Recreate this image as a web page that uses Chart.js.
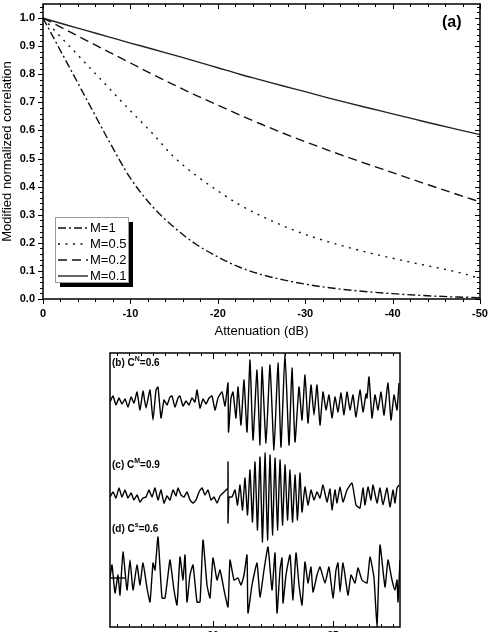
<!DOCTYPE html>
<html><head><meta charset="utf-8">
<script src="https://cdn.jsdelivr.net/npm/chart.js@4.4.0/dist/chart.umd.min.js"></script>
<style>
html,body{margin:0;padding:0;width:492px;height:632px;overflow:hidden;background:#fff;}
#c1{position:absolute;left:0;top:0;}
#c2{position:absolute;left:0;top:345px;}
</style></head><body>
<canvas id="c1" width="492" height="340"></canvas>
<canvas id="c2" width="492" height="300"></canvas>
<script>
// ---------- panel (a) data ----------
const attenuation = [0,-2.5,-5,-7.5,-10,-12.5,-15,-17.5,-20,-22.5,-25,-27.5,-30,-32.5,-35,-37.5,-40,-42.5,-45,-47.5,-50];
const corrM1  = [1,0.855,0.71,0.565,0.43,0.33,0.255,0.195,0.15,0.113,0.087,0.068,0.053,0.041,0.032,0.025,0.019,0.014,0.010,0.007,0.005];
const corrM05 = [1,0.917,0.835,0.752,0.67,0.59,0.505,0.44,0.385,0.335,0.295,0.26,0.23,0.205,0.183,0.163,0.145,0.128,0.112,0.095,0.073];
const corrM02 = [1,0.96,0.92,0.88,0.84,0.8,0.762,0.725,0.69,0.655,0.622,0.59,0.56,0.531,0.503,0.476,0.45,0.423,0.397,0.371,0.346];
const corrM01 = [1,0.977,0.955,0.933,0.911,0.89,0.868,0.846,0.823,0.80,0.779,0.758,0.738,0.717,0.697,0.678,0.659,0.64,0.621,0.603,0.585];
const seriesLabels = ['M=1','M=0.5','M=0.2','M=0.1'];
const panelALabel = '(a)';
const xTitle = 'Attenuation (dB)';
const yTitle = 'Modified normalized correlation';

// ---------- panels (b)-(d) data: [sample index, amplitude] ----------
const tStart = 15.71, samplesPerUnit = 24, sampleCount = 290;
const traceB = [[0,0],[3,0.6],[6,-0.3],[9,0.4],[12,-0.2],[15,0.3],[18,-0.5],[21,0.5],[24,-0.1],[27,1.0],[30,-0.8],[33,1.1],[36,-0.6],[40,1.2],[43,-1.8],[46,1.2],[48,1.5],[51,-1.6],[54,0.2],[57,-0.3],[60,0.5],[62,0.6],[65,-0.5],[68,0.4],[70,0.6],[73,-0.4],[76,0.1],[79,-0.3],[82,0.4],[85,0],[87,1.2],[90,-0.6],[93,0.3],[96,-0.2],[99,0.4],[102,0.6],[105,-0.8],[108,0.4],[112,1.0],[115,-0.4],[118,1.9],[118.5,-3.0],[121,0.4],[123,1.0],[126,-1.6],[128,1.5],[131,-2.3],[134,2.2],[137,-3.0],[140,4.2],[143,-3.8],[147,3.2],[150,-4.3],[152,3.5],[156,-4.1],[160,3.7],[164,-4.8],[168,3.9],[171,-4.5],[175,4.9],[179,-4.3],[182,3.4],[185,-4.0],[189,1.5],[192,-1.8],[195,2.7],[198,-2.1],[201,1.7],[204,-1.3],[207,1.7],[210,-2.3],[213,1.0],[216,-0.8],[219,0.7],[222,-1.6],[225,0.5],[228,-1.0],[231,0.9],[234,-1.3],[237,1.0],[240,-0.8],[243,0.7],[246,-1.5],[250,1.2],[253,-1.0],[256,0.8],[257,0.4],[259,2.5],[262,-1.6],[265,0.7],[268,-0.8],[271,1.0],[274,-1.3],[278,1.9],[281,-1.8],[284,0.7],[287,-0.8],[289,1.9]];
const traceC = [[0,-0.2],[3,0.3],[6,-0.3],[9,0.7],[12,-0.2],[15,0.5],[18,-0.3],[21,0.2],[24,-0.5],[27,0],[30,-0.7],[33,-0.3],[36,-0.2],[39,0.5],[42,-0.2],[45,0.7],[48,-0.5],[51,0.5],[54,-0.8],[57,-0.1],[60,-0.5],[63,0.5],[66,-0.1],[68,0.7],[71,0],[74,-0.2],[77,0.3],[80,-0.5],[83,-0.8],[86,-0.5],[89,0.3],[92,0.7],[95,0],[98,0.5],[101,-0.5],[104,-0.2],[107,-0.8],[110,-0.1],[113,0.2],[116,0.5],[118,0.7],[118,3.3],[118,-2.8],[119,-0.2],[122,-0.2],[125,0.5],[127.5,-1.0],[130,1.0],[132.5,-1.5],[135,1.7],[137.5,-2.0],[140,2.5],[142.5,-2.7],[145,3.3],[147.5,-3.5],[150,3.8],[152.5,-4.7],[155,4.2],[157.5,-4.5],[160,4.0],[162.5,-4.0],[165,3.7],[167.5,-3.5],[170,3.5],[172.5,-3.0],[175,3.0],[177.5,-2.5],[180,2.5],[182.5,-2.7],[185,2.0],[187.5,-2.5],[190,2.2],[192,-1.7],[195,0.8],[198,-1.0],[201,0.5],[204,-0.5],[207,0.3],[210,-0.3],[213,1.0],[217,-0.7],[220,0.6],[222,-1.5],[225,0.5],[227,-0.8],[230,0.8],[233,-0.7],[237,0.5],[242,1.2],[246,-1.0],[250,-1.3],[253,0.7],[255,-1.0],[258,0.8],[261,-0.5],[263,1.0],[267,-0.8],[270,0.7],[273,-1.0],[277,0.7],[280,-1.2],[283,0.5],[285,-0.8],[287,0.7],[289,1.0]];
const traceD = [[0,0],[2,1.3],[5,-1.5],[8,0.3],[10,-1.7],[13,2.6],[17,-1.2],[20,1.8],[23,-1.2],[27,1.3],[30,-0.7],[33,1.5],[37,-1.0],[40,-2.4],[43,1.5],[45,0.8],[48,4.1],[52,-2.0],[55,-2.0],[58,0.3],[60,1.8],[64,-1.2],[67,-2.7],[70,2.1],[73,-0.2],[75,2.3],[77,-2.4],[80,0.3],[83,1.3],[87,-2.4],[90,-2.4],[93,3.8],[97,-0.7],[100,-2.0],[103,2.0],[107,-0.2],[110,0.8],[114,-1.2],[118,-2.9],[120,1.8],[124,-0.2],[128,0],[131,-0.7],[134,0.3],[137,2.3],[138,-3.5],[142,-0.7],[147,1.5],[150,-1.9],[154,0.8],[158,3.1],[162,-1.2],[165,2.5],[167,-3.5],[170,0.8],[172,2.0],[173,-2.5],[176,0.3],[180,2.3],[183,-2.2],[186,2.5],[189,-0.7],[192,-2.7],[195,1.6],[198,-0.5],[201,1.1],[203,-1.4],[207,0.3],[210,1.1],[215,-0.5],[219,1.1],[223,-2.0],[226,0.8],[228,1.5],[230,-1.4],[233,1.5],[238,-1.7],[241,0.3],[245,-0.5],[248,1.0],[252,-0.2],[257,-0.5],[260,2.1],[264,0],[267,-4.9],[270,3.3],[275,-0.9],[278,1.8],[282,-0.2],[285,-1.2],[287,-0.2],[288,-2.4],[290,1.8]];
const traceDRef = [[0,0],[16,0]];
const traceOffsets = {b:22.5, c:13.2, d:4.9};
const traceLabels = [
  {pre:'(b) C', sup:'N', post:'=0.6', off:'b'},
  {pre:'(c) C', sup:'M', post:'=0.9', off:'c'},
  {pre:'(d) C', sup:'s', post:'=0.6', off:'d'}
];

Chart.defaults.font.family = "'Liberation Sans', Arial, sans-serif";
Chart.defaults.color = '#000';

const styles = [
  {dash:[8,3,2,3], color:'#111'},
  {dash:[2,5.5], color:'#111'},
  {dash:[9,5], color:'#111'},
  {dash:[], color:'#222'}
];
const seriesData = [corrM1, corrM05, corrM02, corrM01];

function noPad(s){ s.paddingTop = 0; s.paddingBottom = 0; s.paddingLeft = 0; s.paddingRight = 0; }

const panelAPlugin = {
  id:'panelA',
  afterDraw(chart){
    const {ctx, chartArea:a, scales:{x,y}} = chart;
    ctx.save();
    ctx.strokeStyle = '#000';
    ctx.lineWidth = 1;
    ctx.beginPath();
    for (let v = 0; v >= -50.001; v -= 2) {
      const px = Math.round(x.getPixelForValue(v)) + 0.5;
      const major = Math.abs(v % 10) < 1e-6;
      const L = major ? 5 : 3;
      ctx.moveTo(px, a.bottom); ctx.lineTo(px, a.bottom + L);
      ctx.moveTo(px, a.top); ctx.lineTo(px, a.top + L);
    }
    for (let i = 0; i <= 52; i++) {
      const v = i * 0.02;
      const py = Math.round(y.getPixelForValue(v)) + 0.5;
      const major = i % 5 === 0;
      const L = major ? 5 : 3;
      ctx.moveTo(a.left, py); ctx.lineTo(a.left - L, py);
      ctx.moveTo(a.right, py); ctx.lineTo(a.right - L, py);
    }
    ctx.stroke();
    ctx.lineWidth = 1.5;
    ctx.strokeRect(a.left, a.top, a.right - a.left, a.bottom - a.top);
    // legend
    const lx = 55, ly = 217, lw = 73, lh = 65;
    ctx.fillStyle = '#000';
    ctx.fillRect(lx + 5, ly + 5, lw, lh);
    ctx.fillStyle = '#fff';
    ctx.fillRect(lx, ly, lw, lh);
    ctx.lineWidth = 1;
    ctx.strokeStyle = '#999';
    ctx.strokeRect(lx + 0.5, ly + 0.5, lw, lh);
    ctx.font = "13px 'Liberation Sans', Arial, sans-serif";
    ctx.textBaseline = 'middle';
    seriesLabels.forEach((lab, i) => {
      const yy = ly + 11 + i * 16;
      ctx.strokeStyle = styles[i].color;
      ctx.lineWidth = 1.4;
      ctx.setLineDash(styles[i].dash);
      ctx.beginPath(); ctx.moveTo(lx + 3, yy); ctx.lineTo(lx + 33, yy); ctx.stroke();
      ctx.setLineDash([]);
      ctx.fillStyle = '#000';
      ctx.fillText(lab, lx + 35, yy);
    });
    ctx.font = "bold 16px 'Liberation Sans', Arial, sans-serif";
    ctx.textAlign = 'left';
    ctx.fillText(panelALabel, 442, 23);
    ctx.restore();
  }
};

new Chart(document.getElementById('c1'), {
  type:'line',
  data:{datasets: seriesLabels.map((lab, i) => ({
    label: lab,
    data: attenuation.map((xv, j) => ({x: xv, y: seriesData[i][j]})),
    borderColor: styles[i].color, borderWidth: 1.4, borderDash: styles[i].dash,
    pointRadius: 0, cubicInterpolationMode: 'monotone', fill:false
  }))},
  options:{
    responsive:false, animation:false, devicePixelRatio:1,
    layout:{padding:{top:4, right:12, left:0, bottom:0}},
    plugins:{legend:{display:false}, tooltip:{enabled:false}},
    scales:{
      x:{type:'linear', min:-50, max:0, reverse:true,
        afterFit(s){ s.height = 41; noPad(s); },
        ticks:{stepSize:10, padding:8, includeBounds:false, maxRotation:0, color:'#000', font:{size:11, weight:'bold'}},
        grid:{display:false, drawTicks:false}, border:{display:false},
        title:{display:true, text:xTitle, color:'#000', font:{size:13}, padding:{top:0, bottom:1}}},
      y:{type:'linear', min:0, max:1.05,
        afterFit(s){ s.width = 43; noPad(s); },
        ticks:{stepSize:0.1, padding:8, includeBounds:false, color:'#000', font:{size:11, weight:'bold'}, callback:v => v.toFixed(1)},
        grid:{display:false, drawTicks:false}, border:{display:false},
        title:{display:true, text:yTitle, color:'#000', font:{size:13}, padding:{top:0, bottom:0}}}
    }
  },
  plugins:[panelAPlugin]
});

// ---------- panels (b)-(d) ----------
const toPoints = (arr, off) => arr.map(([s, a]) => ({x: tStart + s / samplesPerUnit, y: off + a}));

const panelBPlugin = {
  id:'panelB',
  afterDraw(chart){
    const {ctx, chartArea:a, scales:{x,y}} = chart;
    ctx.save();
    ctx.strokeStyle = '#000';
    ctx.lineWidth = 1;
    ctx.beginPath();
    for (let v = 16; v <= 27.75; v += 0.5) {
      const px = Math.round(x.getPixelForValue(v)) + 0.5;
      const major = Math.abs(v % 5) < 1e-6;
      const L = major ? 6 : 3;
      ctx.moveTo(px, a.top); ctx.lineTo(px, a.top + L);
      ctx.moveTo(px, a.bottom); ctx.lineTo(px, a.bottom - L);
    }
    ctx.stroke();
    ctx.lineWidth = 1.5;
    ctx.strokeRect(a.left, a.top, a.right - a.left, a.bottom - a.top);
    ctx.fillStyle = '#000';
    ctx.textBaseline = 'middle';
    const labY = {b: 10, c: 112, d: 176};
    traceLabels.forEach(t => {
      const yy = a.top + labY[t.off];
      let xx = a.left + 2;
      ctx.font = "bold 10px 'Liberation Sans', Arial, sans-serif";
      ctx.fillText(t.pre, xx, yy);
      xx += ctx.measureText(t.pre).width;
      ctx.font = "bold 7px 'Liberation Sans', Arial, sans-serif";
      ctx.fillText(t.sup, xx, yy - 4);
      xx += ctx.measureText(t.sup).width;
      ctx.font = "bold 10px 'Liberation Sans', Arial, sans-serif";
      ctx.fillText(t.post, xx, yy);
    });
    ctx.restore();
  }
};

const traceStyle = {borderColor:'#000', borderWidth:1.4, pointRadius:0, tension:0.15, fill:false};
new Chart(document.getElementById('c2'), {
  type:'line',
  data:{datasets:[
    Object.assign({label:'b', data: toPoints(traceB, traceOffsets.b)}, traceStyle),
    Object.assign({label:'c', data: toPoints(traceC, traceOffsets.c)}, traceStyle),
    Object.assign({label:'d', data: toPoints(traceD, traceOffsets.d)}, traceStyle),
    Object.assign({label:'dref', data: toPoints(traceDRef, traceOffsets.d)}, traceStyle, {tension:0})
  ]},
  options:{
    responsive:false, animation:false, devicePixelRatio:1,
    layout:{padding:{top:8, right:92, left:110, bottom:0}},
    plugins:{legend:{display:false}, tooltip:{enabled:false}},
    scales:{
      x:{type:'linear', min:tStart, max:tStart + sampleCount / samplesPerUnit,
        afterFit(s){ s.height = 18; noPad(s); },
        ticks:{stepSize:5, padding:3, includeBounds:false, maxRotation:0, color:'#000', font:{size:10, weight:'bold'}},
        grid:{display:false, drawTicks:false}, border:{display:false}},
      y:{type:'linear', min:0, max:27.4, display:false}
    }
  },
  plugins:[panelBPlugin]
});
</script>
</body></html>
